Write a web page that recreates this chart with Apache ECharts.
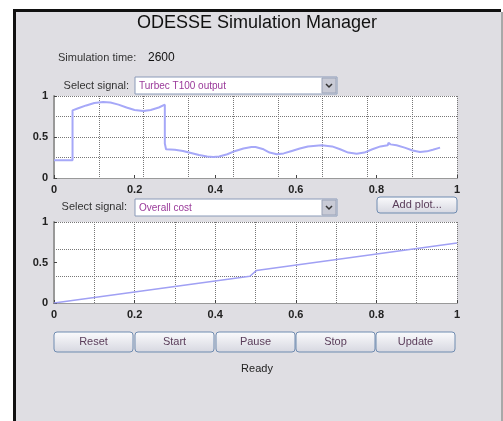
<!DOCTYPE html>
<html>
<head>
<meta charset="utf-8">
<script src="https://cdn.jsdelivr.net/npm/echarts@6/dist/echarts.min.js"></script>
<style>
	html, body { margin: 0; padding: 0; background: #fff; }
	#chart { width: 503px; height: 421px; }
</style>
</head>
<body>
<div id="chart"></div>
<script>
// signal 1: Turbec T100 output
var sig1X = [0, 0.046, 0.046, 0.06, 0.08, 0.10, 0.122, 0.14, 0.16, 0.18, 0.20, 0.222, 0.24, 0.26, 0.275,
	0.275, 0.278, 0.30, 0.32, 0.34, 0.36, 0.38, 0.395, 0.41, 0.43, 0.45, 0.47, 0.49, 0.50, 0.52, 0.535,
	0.553, 0.57, 0.59, 0.61, 0.63, 0.664, 0.69, 0.71, 0.73, 0.751, 0.77, 0.79, 0.81, 0.828, 0.83, 0.835,
	0.85, 0.87, 0.89, 0.908, 0.925, 0.94, 0.958];
var sig1Y = [0.215, 0.215, 0.825, 0.85, 0.885, 0.915, 0.927, 0.92, 0.895, 0.86, 0.83, 0.817, 0.83, 0.86, 0.894,
	0.42, 0.35, 0.345, 0.33, 0.305, 0.28, 0.262, 0.256, 0.262, 0.29, 0.33, 0.36, 0.377, 0.378, 0.35, 0.31,
	0.289, 0.30, 0.33, 0.36, 0.385, 0.398, 0.385, 0.35, 0.31, 0.297, 0.31, 0.35, 0.385, 0.398, 0.43, 0.41,
	0.40, 0.37, 0.335, 0.317, 0.325, 0.345, 0.37];

// signal 2: Overall cost
var sig2X = [0, 0.486, 0.502, 1];
var sig2Y = [0, 0.33, 0.40, 0.74];

var buttonLabels = ['Reset', 'Start', 'Pause', 'Stop', 'Update'];
var buttonLeft = [54, 135, 216, 296, 376];

var FONT = '"Liberation Sans", Arial, sans-serif';

function pairs(xs, ys) {
	var out = [];
	for (var i = 0; i < xs.length; i++) out.push([xs[i], ys[i]]);
	return out;
}

function tickLabel(v) {
	return String(Math.round(v * 10) / 10);
}

function labelAxis(grid, pos, step) {
	return {
		type: 'value', gridIndex: grid, position: pos, min: 0, max: 1, interval: step,
		axisLine: { show: true, lineStyle: { color: '#444', width: 1 } },
		axisTick: { show: true, inside: true, length: 3, lineStyle: { color: '#444' } },
		axisLabel: { margin: 6, color: '#222', fontSize: 11, fontWeight: 'bold', fontFamily: FONT, formatter: tickLabel },
		splitLine: { show: false }
	};
}

function gridAxis(grid, pos, step) {
	return {
		type: 'value', gridIndex: grid, position: pos, min: 0, max: 1, interval: step,
		axisLine: { show: true, lineStyle: { color: '#999', width: pos === 'right' ? 2 : 1 } },
		axisTick: { show: false },
		axisLabel: { show: false },
		splitLine: { show: true, lineStyle: { color: '#777', type: 'dotted', width: 1 } }
	};
}

var graphics = [
	{ type: 'rect', z: -10, shape: { x: 13, y: 9, width: 488, height: 412 }, style: { fill: '#111' } },
	{ type: 'rect', z: -9, shape: { x: 16, y: 12, width: 485, height: 409 }, style: { fill: '#dfdee3' } },
	{ type: 'rect', z: -9, shape: { x: 501, y: 12, width: 2, height: 409 }, style: { fill: '#a8a8a8' } },
	{ type: 'text', x: 257, y: 23, style: { text: 'ODESSE Simulation Manager', font: '18px ' + FONT, fill: '#111', align: 'center', verticalAlign: 'middle' } },
	{ type: 'text', x: 58, y: 58, style: { text: 'Simulation time:', font: '11px ' + FONT, fill: '#333', verticalAlign: 'middle' } },
	{ type: 'text', x: 148, y: 58, style: { text: '2600', font: '12px ' + FONT, fill: '#111', verticalAlign: 'middle' } },
	{ type: 'text', x: 129, y: 86, style: { text: 'Select signal:', font: '11px ' + FONT, fill: '#333', align: 'right', verticalAlign: 'middle' } },
	{ type: 'text', x: 127, y: 207, style: { text: 'Select signal:', font: '11px ' + FONT, fill: '#333', align: 'right', verticalAlign: 'middle' } },
	{ type: 'text', x: 257, y: 369, style: { text: 'Ready', font: '11px ' + FONT, fill: '#222', align: 'center', verticalAlign: 'middle' } }
];

// drop-down boxes
[[77, 'Turbec T100 output'], [199, 'Overall cost']].forEach(function (d) {
	graphics.push({ type: 'rect', shape: { x: 135, y: d[0], width: 202, height: 17 }, style: { fill: '#fff', stroke: '#8a9ab8', lineWidth: 1 } });
	graphics.push({ type: 'rect', shape: { x: 322, y: d[0] + 1, width: 14, height: 15 }, style: { fill: '#c9cbd6', stroke: '#9aa3b8', lineWidth: 1 } });
	graphics.push({ type: 'polyline', shape: { points: [[326, d[0] + 7], [329, d[0] + 10], [332, d[0] + 7]] }, style: { stroke: '#333', lineWidth: 1.5, fill: null } });
	graphics.push({ type: 'text', x: 139, y: d[0] + 9, style: { text: d[1], font: '10px ' + FONT, fill: '#9a3a9a', verticalAlign: 'middle' } });
});

function button(x, y, w, h, label) {
	graphics.push({
		type: 'rect', shape: { x: x, y: y, width: w, height: h, r: 3 },
		style: {
			stroke: '#6f8bb0', lineWidth: 1,
			fill: new echarts.graphic.LinearGradient(0, 0, 0, 1, [{ offset: 0, color: '#fbfbfd' }, { offset: 1, color: '#d6d7e0' }])
		}
	});
	graphics.push({ type: 'text', x: x + w / 2, y: y + h / 2, style: { text: label, font: '11px ' + FONT, fill: '#5a3d5a', align: 'center', verticalAlign: 'middle' } });
}

button(377, 197, 80, 16, 'Add plot...');
for (var i = 0; i < buttonLabels.length; i++) {
	button(buttonLeft[i], 332, 79, 20, buttonLabels[i]);
}

var chart = echarts.init(document.getElementById('chart'));
chart.setOption({
	animation: false,
	backgroundColor: '#fff',
	graphic: graphics,
	grid: [
		{ left: 54, top: 96, width: 403, height: 82, show: true, backgroundColor: '#fff', borderWidth: 0 },
		{ left: 54, top: 222, width: 403, height: 81, show: true, backgroundColor: '#fff', borderWidth: 0 }
	],
	xAxis: [
		labelAxis(0, 'bottom', 0.2),
		gridAxis(0, 'top', 1 / 9),
		labelAxis(1, 'bottom', 0.2),
		gridAxis(1, 'top', 0.1)
	],
	yAxis: [
		labelAxis(0, 'left', 0.5),
		gridAxis(0, 'right', 0.25),
		labelAxis(1, 'left', 0.5),
		gridAxis(1, 'right', 1 / 3)
	],
	series: [{
		type: 'line', xAxisIndex: 0, yAxisIndex: 0, showSymbol: false,
		lineStyle: { color: '#a6a8f8', width: 2 },
		data: pairs(sig1X, sig1Y)
	}, {
		type: 'line', xAxisIndex: 2, yAxisIndex: 2, showSymbol: false,
		lineStyle: { color: '#a0a0f4', width: 1.5 },
		data: pairs(sig2X, sig2Y)
	}]
});
</script>
</body>
</html>
